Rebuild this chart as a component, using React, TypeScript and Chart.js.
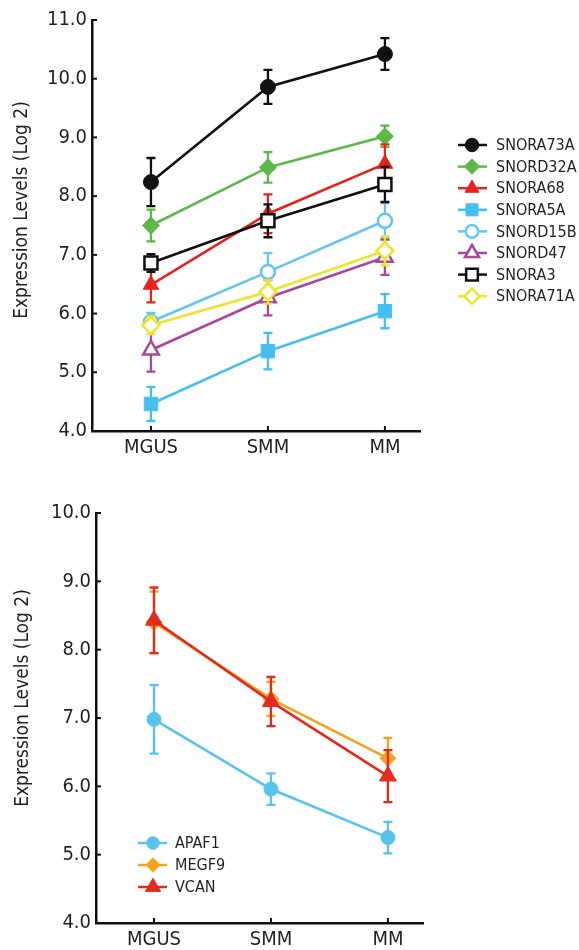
import React, { useEffect, useRef } from 'react';
import { Chart, registerables } from 'chart.js';

Chart.register(...registerables);

// ---------- data ----------
const stages = ['MGUS', 'SMM', 'MM'];

const topYTicks = [4, 5, 6, 7, 8, 9, 10, 11];
const bottomYTicks = [4, 5, 6, 7, 8, 9, 10];

const snoNames = ['SNORA73A', 'SNORD32A', 'SNORA68', 'SNORA5A', 'SNORD15B', 'SNORD47', 'SNORA3', 'SNORA71A'];
const snora73a = [8.24, 9.86, 10.42];
const snora73aErr = [0.41, 0.29, 0.27];
const snord32a = [7.5, 8.49, 9.02];
const snord32aErr = [0.27, 0.26, 0.18];
const snora68 = [6.49, 7.7, 8.55];
const snora68Err = [0.3, 0.33, 0.33];
const snora5a = [4.46, 5.36, 6.04];
const snora5aErr = [0.29, 0.31, 0.29];
const snord15b = [5.86, 6.71, 7.58];
const snord15bErr = [0.15, 0.32, 0.3];
const snord47 = [5.38, 6.27, 6.96];
const snord47Err = [0.37, 0.3, 0.3];
const snora3 = [6.86, 7.58, 8.2];
const snora3Err = [0.15, 0.28, 0.3];
const snora71a = [5.8, 6.37, 7.07];
const snora71aErr = [0.15, 0.2, 0.25];

const geneNames = ['APAF1', 'MEGF9', 'VCAN'];
const apaf1 = [6.98, 5.96, 5.25];
const apaf1Err = [0.5, 0.23, 0.23];
const megf9 = [8.4, 7.28, 6.41];
const megf9Err = [0.45, 0.25, 0.3];
const vcan = [8.43, 7.24, 6.15];
const vcanErr = [0.48, 0.36, 0.38];

// ---------- styles ----------
type St = { color: string; point: string; open: boolean; radius: number };

const snoStyles: St[] = [
  { color: '#111111', point: 'circle', open: false, radius: 7.5 },
  { color: '#5cb946', point: 'rectRot', open: false, radius: 8.5 },
  { color: '#e5231b', point: 'triangle', open: false, radius: 9 },
  { color: '#46bfee', point: 'rect', open: false, radius: 9.5 },
  { color: '#66c6ef', point: 'circle', open: true, radius: 7 },
  { color: '#a9489b', point: 'triangle', open: true, radius: 9 },
  { color: '#111111', point: 'rect', open: true, radius: 9.2 },
  { color: '#f0e42a', point: 'rectRot', open: true, radius: 8.5 },
];

const geneStyles: St[] = [
  { color: '#5ac3ec', point: 'circle', open: false, radius: 7 },
  { color: '#f6a21e', point: 'rectRot', open: false, radius: 8 },
  { color: '#e42a1e', point: 'triangle', open: false, radius: 9.8 },
];

const FONT = '"DejaVu Sans Condensed", "Liberation Sans Narrow", sans-serif';
const TEXT = '#231f20';

function drawMarker(ctx: CanvasRenderingContext2D, st: St, x: number, y: number, r: number) {
  ctx.beginPath();
  if (st.point === 'circle') {
    ctx.arc(x, y, r, 0, Math.PI * 2);
  } else if (st.point === 'rect') {
    const s = Math.SQRT1_2 * r;
    ctx.rect(x - s, y - s, 2 * s, 2 * s);
  } else if (st.point === 'rectRot') {
    ctx.moveTo(x - r, y);
    ctx.lineTo(x, y - r);
    ctx.lineTo(x + r, y);
    ctx.lineTo(x, y + r);
    ctx.closePath();
  } else {
    let a = 0;
    ctx.moveTo(x + Math.sin(a) * r, y - Math.cos(a) * r);
    a += (2 * Math.PI) / 3;
    ctx.lineTo(x + Math.sin(a) * r, y - Math.cos(a) * r);
    a += (2 * Math.PI) / 3;
    ctx.lineTo(x + Math.sin(a) * r, y - Math.cos(a) * r);
    ctx.closePath();
  }
  ctx.fillStyle = st.open ? '#ffffff' : st.color;
  ctx.fill();
  ctx.strokeStyle = st.color;
  ctx.lineWidth = st.open ? 2.5 : 1;
  ctx.stroke();
}

type Cfg = {
  names: string[];
  values: number[][];
  errs: number[][];
  styles: St[];
  yTicks: number[];
  xMin: number;
  xMax: number;
  yWidth: number;
  xHeight: number;
  padTop: number;
  padRight: number;
  titleX: number;
  titleY: number;
  legend: { x0: number; x1: number; xm: number; xt: number; y0: number; dy: number };
};

function build(cfg: Cfg): any {
  const { names, values, errs, styles, yTicks } = cfg;
  const errPlugin = {
    id: 'errbars',
    beforeDatasetDraw(chart: any, args: any) {
      const i = args.index;
      const st = styles[i];
      const ys = chart.scales.y;
      const ctx = chart.ctx as CanvasRenderingContext2D;
      ctx.save();
      ctx.strokeStyle = st.color;
      ctx.lineWidth = 2.3;
      args.meta.data.forEach((pt: any, j: number) => {
        const v = values[i][j];
        const e = errs[i][j];
        const x = pt.x;
        const yt = ys.getPixelForValue(v + e);
        const yb = ys.getPixelForValue(v - e);
        ctx.beginPath();
        ctx.moveTo(x, yt);
        ctx.lineTo(x, yb);
        ctx.moveTo(x - 4.5, yt);
        ctx.lineTo(x + 4.5, yt);
        ctx.moveTo(x - 4.5, yb);
        ctx.lineTo(x + 4.5, yb);
        ctx.stroke();
      });
      ctx.restore();
    },
  };
  const decor = {
    id: 'decor',
    afterDraw(chart: any) {
      const ctx = chart.ctx as CanvasRenderingContext2D;
      const { left, bottom } = chart.chartArea;
      const xs = chart.scales.x;
      const ys = chart.scales.y;
      ctx.save();
      ctx.strokeStyle = '#111';
      ctx.lineWidth = 2;
      yTicks.forEach((t) => {
        const y = ys.getPixelForValue(t);
        ctx.beginPath();
        ctx.moveTo(left, y);
        ctx.lineTo(left + 5, y);
        ctx.stroke();
      });
      stages.forEach((_, j) => {
        const x = xs.getPixelForValue(j);
        ctx.beginPath();
        ctx.moveTo(x, bottom);
        ctx.lineTo(x, bottom - 5);
        ctx.stroke();
      });
      // y title
      ctx.save();
      ctx.translate(cfg.titleX, cfg.titleY);
      ctx.rotate(-Math.PI / 2);
      ctx.fillStyle = TEXT;
      ctx.font = `19px ${FONT}`;
      ctx.textAlign = 'center';
      ctx.textBaseline = 'middle';
      ctx.fillText('Expression Levels (Log 2)', 0, 0);
      ctx.restore();
      // legend
      const L = cfg.legend;
      names.forEach((n, i) => {
        const st = styles[i];
        const y = L.y0 + i * L.dy;
        ctx.strokeStyle = st.color;
        ctx.lineWidth = 2.5;
        ctx.beginPath();
        ctx.moveTo(L.x0, y);
        ctx.lineTo(L.x1, y);
        ctx.stroke();
        drawMarker(ctx, st, L.xm, y, st.radius * 0.9);
        ctx.fillStyle = TEXT;
        ctx.font = `16px ${FONT}`;
        ctx.textAlign = 'left';
        ctx.textBaseline = 'middle';
        ctx.fillText(n, L.xt, y + 1);
      });
      ctx.restore();
    },
  };
  return {
    type: 'line',
    data: {
      datasets: names.map((n, i) => {
        const st = styles[i];
        return {
          label: n,
          data: values[i].map((v, j) => ({ x: j, y: v })),
          borderColor: st.color,
          backgroundColor: st.open ? '#ffffff' : st.color,
          pointBackgroundColor: st.open ? '#ffffff' : st.color,
          pointBorderColor: st.color,
          pointStyle: st.point,
          pointRadius: st.radius,
          pointBorderWidth: st.open ? 2.5 : 1,
          borderWidth: 2.6,
          tension: 0,
          fill: false,
          order: -i,
        };
      }),
    },
    options: {
      responsive: false,
      animation: false,
      devicePixelRatio: 1,
      layout: { padding: { left: 0, right: cfg.padRight, top: cfg.padTop, bottom: 0 } },
      plugins: { legend: { display: false }, tooltip: { enabled: false } },
      scales: {
        x: {
          type: 'linear',
          min: cfg.xMin,
          max: cfg.xMax,
          afterBuildTicks: (s: any) => {
            s.ticks = stages.map((_, j) => ({ value: j }));
          },
          afterFit: (s: any) => {
            s.height = cfg.xHeight;
          },
          ticks: {
            callback: (v: any) => stages[v] ?? '',
            font: { family: FONT, size: 20 },
            color: TEXT,
            padding: 5,
            maxRotation: 0,
            autoSkip: false,
          },
          grid: { display: false, drawTicks: false },
          border: { color: '#111', width: 2.5 },
        },
        y: {
          min: yTicks[0],
          max: yTicks[yTicks.length - 1],
          afterBuildTicks: (s: any) => {
            s.ticks = yTicks.map((t) => ({ value: t }));
          },
          afterFit: (s: any) => {
            s.width = cfg.yWidth;
          },
          ticks: {
            callback: (v: any) => Number(v).toFixed(1),
            font: { family: FONT, size: 20 },
            color: TEXT,
            padding: 5,
          },
          grid: { display: false, drawTicks: false },
          border: { color: '#111', width: 2.5 },
        },
      },
    },
    plugins: [errPlugin, decor],
  };
}

export default function App() {
  const topRef = useRef<HTMLCanvasElement>(null);
  const botRef = useRef<HTMLCanvasElement>(null);
  useEffect(() => {
    const c1 = new Chart(
      topRef.current!,
      build({
        names: snoNames,
        values: [snora73a, snord32a, snora68, snora5a, snord15b, snord47, snora3, snora71a],
        errs: [snora73aErr, snord32aErr, snora68Err, snora5aErr, snord15bErr, snord47Err, snora3Err, snora71aErr],
        styles: snoStyles,
        yTicks: topYTicks,
        xMin: -0.504,
        xMax: 2.3,
        yWidth: 92,
        xHeight: 39,
        padTop: 20,
        padRight: 159,
        titleX: 22,
        titleY: 210,
        legend: { x0: 458, x1: 487, xm: 472, xt: 496, y0: 145, dy: 21.6 },
      })
    );
    const c2 = new Chart(
      botRef.current!,
      build({
        names: geneNames,
        values: [apaf1, megf9, vcan],
        errs: [apaf1Err, megf9Err, vcanErr],
        styles: geneStyles,
        yTicks: bottomYTicks,
        xMin: -0.496,
        xMax: 2.3,
        yWidth: 96,
        xHeight: 27,
        padTop: 43,
        padRight: 156,
        titleX: 23,
        titleY: 228,
        legend: { x0: 138, x1: 167, xm: 153, xt: 175, y0: 373, dy: 22 },
      })
    );
    return () => {
      c1.destroy();
      c2.destroy();
    };
  }, []);
  return (
    <div style={{ position: 'absolute', left: 0, top: 0, width: 579, height: 950, background: '#fff' }}>
      <canvas ref={topRef} width={579} height={470} style={{ display: 'block', width: 579, height: 470 }} />
      <canvas ref={botRef} width={579} height={480} style={{ display: 'block', width: 579, height: 480 }} />
    </div>
  );
}
